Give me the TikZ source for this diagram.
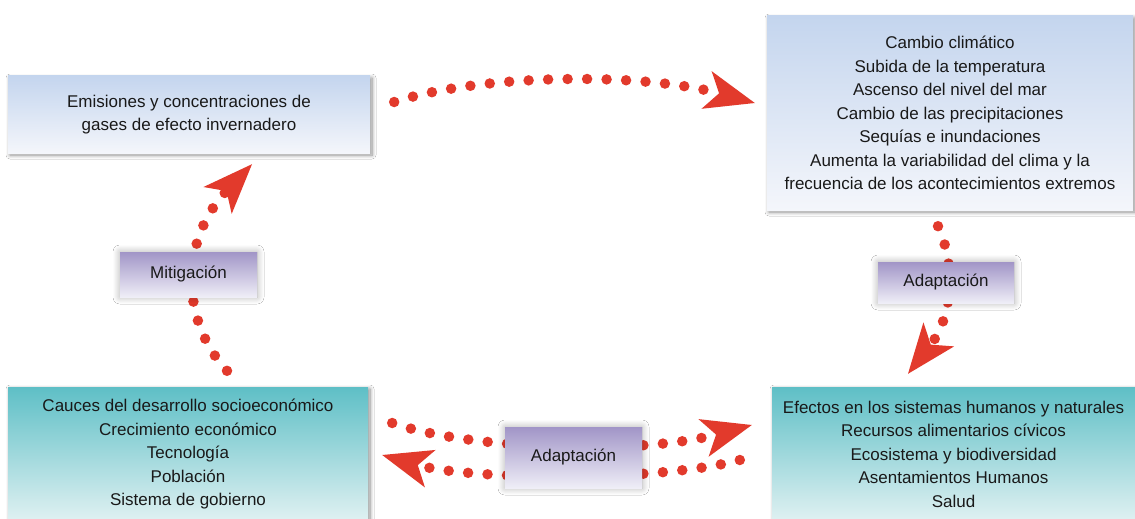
\documentclass[tikz,border=0pt]{standalone}
\usepackage{fontspec}
\setmainfont{Liberation Sans}
\usetikzlibrary{arrows.meta,shadows.blur}
\definecolor{redarr}{HTML}{E23A2C}
\definecolor{bluetop}{HTML}{C4D5EE}
\definecolor{bluebot}{HTML}{F4F6FB}
\definecolor{tealtop}{HTML}{5EBFC6}
\definecolor{tealbot}{HTML}{E0F1F2}
\definecolor{tagtop}{HTML}{A195C7}
\definecolor{tagbot}{HTML}{EFEEF7}
\begin{document}
\begin{tikzpicture}[x=1pt,y=-1pt,
  box/.style={align=center, inner sep=0pt, font=\fontsize{17}{23.5}\selectfont, text=black!90,
    blur shadow={shadow xshift=2pt, shadow yshift=-2pt, shadow blur radius=4pt, shadow blur steps=8, shadow opacity=45}},
  bluebox/.style={box, top color=bluetop, bottom color=bluebot},
  tealbox/.style={box, top color=tealtop, bottom color=tealbot},
  tag/.style={align=center, inner sep=0pt, font=\fontsize{17}{20}\selectfont, text=black!90,
    top color=tagtop, bottom color=tagbot,
    blur shadow={shadow xshift=0pt, shadow yshift=0pt, shadow blur radius=7pt, shadow blur steps=10, shadow opacity=32}},
  dots/.style={draw=redarr, line width=10.5pt, line cap=round, dash pattern=on 0pt off 19.5pt,
    -{Stealth[length=50pt,width=39pt,inset=13pt,line width=0pt,fill=redarr]}},
]
\useasboundingbox (0,0) rectangle (1135,519);
\fill[white] (0,0) rectangle (1135,519);

% boxes
\node[bluebox, minimum width=362pt, minimum height=77pt] (tl) at (189,114.5)
  {\fontsize{17}{21}\selectfont Emisiones y concentraciones de\\gases de efecto invernadero};
\node[bluebox, minimum width=366pt, minimum height=194pt] (tr) at (950,113)
  {Cambio climático\\Subida de la temperatura\\Ascenso del nivel del mar\\Cambio de las precipitaciones\\Sequías e inundaciones\\Aumenta la variabilidad del clima y la\\frecuencia de los acontecimientos extremos};
\node[tealbox, minimum width=360pt, minimum height=134pt] (bl) at (188,454)
  {Cauces del desarrollo socioeconómico\\Crecimiento económico\\Tecnología\\Población\\Sistema de gobierno};
\node[tealbox, minimum width=363pt, minimum height=134pt] (br) at (953.5,454)
  {Efectos en los sistemas humanos y naturales\\Recursos alimentarios cívicos\\Ecosistema y biodiversidad\\Asentamientos Humanos\\Salud};

% connectors
\draw[dots] ([xshift=24pt,yshift=12.5pt]tl.east) .. controls (480,74) and (640,72) .. ([xshift=-12pt,yshift=10pt]tr.west);
\draw[dots] ([xshift=39pt,yshift=16pt]bl.north) .. controls (180,320) and (180,240) .. ([xshift=63pt,yshift=-11pt]tl.south);
\draw[dots] ([xshift=-12pt,yshift=-16pt]tr.south) .. controls (958,270) and (950,320) .. ([xshift=-45.5pt,yshift=13pt]br.north);
\draw[dots] ([xshift=24pt,yshift=31pt]bl.east) .. controls (470,450) and (640,455) .. ([xshift=-20pt,yshift=29pt]br.west);
\draw[dots] ([xshift=-32pt,yshift=-6pt]br.west) .. controls (660,482) and (470,480) .. ([xshift=14pt,yshift=-1pt]bl.east);

% labels
\node[tag, minimum width=137pt, minimum height=45pt] (mit) at (188.5,274.5) {Mitigación};
\node[tag, minimum width=136pt, minimum height=41pt] (adr) at (946,282.5) {Adaptación};
\node[tag, minimum width=137pt, minimum height=61pt] (adb) at (573.5,457.5) {Adaptación};
\end{tikzpicture}
\end{document}
